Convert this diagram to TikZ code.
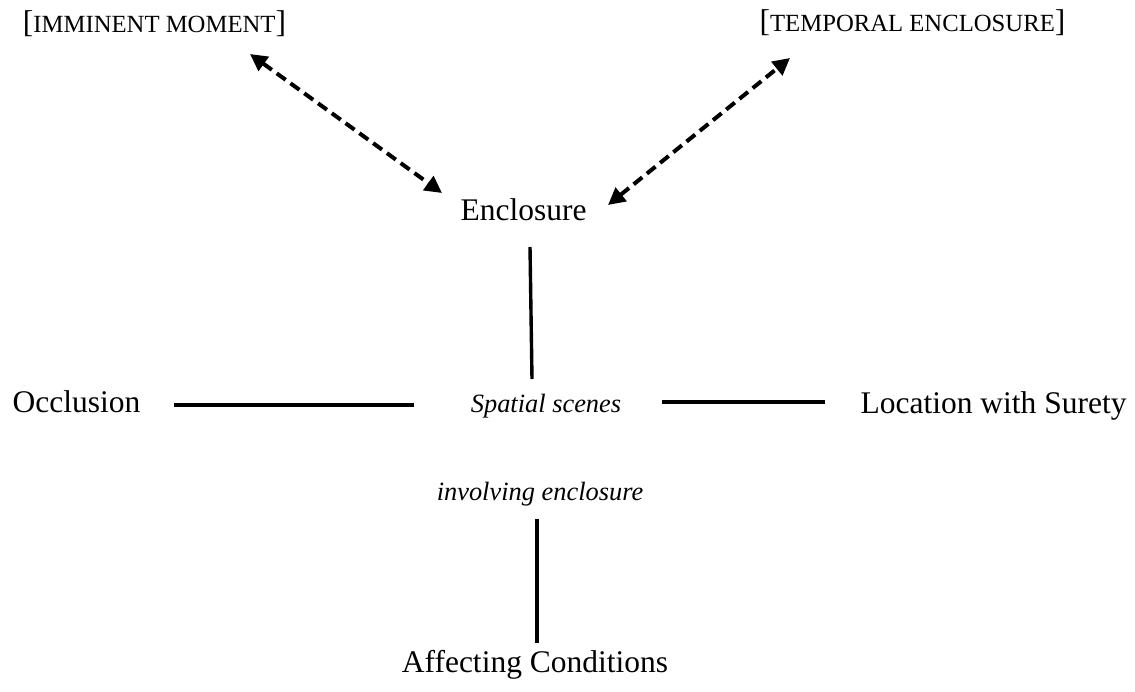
\documentclass[tikz,border=0pt]{standalone}
\usepackage{fontspec}
\setmainfont{Liberation Serif}
\usetikzlibrary{arrows.meta}
\begin{document}
\begin{tikzpicture}[x=1pt,y=-1pt,
  lbl/.style={inner sep=0pt,anchor=base,font=\fontsize{31.5}{36}\selectfont},
  itl/.style={inner sep=0pt,anchor=base,font=\fontsize{26.4}{30}\selectfont\itshape},
  dom/.style={inner sep=0pt,anchor=base,font=\fontsize{24.7}{30}\selectfont},
  conn/.style={line width=3.4pt},
  link/.style={line width=4pt,dash pattern=on 11pt off 6pt,
    {Triangle[length=17pt,width=17pt]}-{Triangle[length=17pt,width=17pt]}}]
\useasboundingbox (0,0) rectangle (1135,691);

% concept labels
\node[dom] (imm) at (154.5,32) {{\fontsize{31.5}{36}\selectfont[}IMMINENT MOMENT{\fontsize{31.5}{36}\selectfont]}};
\node[dom] (tmp) at (912.5,31) {{\fontsize{31.5}{36}\selectfont[}TEMPORAL ENCLOSURE{\fontsize{31.5}{36}\selectfont]}};
\node[lbl] (enc) at (523.5,220) {Enclosure};
\node[lbl] (occ) at (76.5,412) {Occlusion};
\node[itl] (sp)  at (546,412) {Spatial scenes};
\node[lbl] (loc) at (993.5,413) {Location with Surety};
\node[itl] (inv) at (540,500) {involving enclosure};
\node[lbl] (aff) at (535,672) {Affecting Conditions};

% connector end points
\coordinate (immE) at (250,54);
\coordinate (encNW) at (442,193);
\coordinate (tmpE) at (790,58);
\coordinate (encNE) at (608,205);
\coordinate (encS) at (530,247);
\coordinate (spN) at (532,379);
\coordinate (occE) at (174,405);
\coordinate (spW) at (414,405);
\coordinate (spE) at (662,402);
\coordinate (locW) at (825,402);
\coordinate (invS) at (537,519);
\coordinate (affN) at (537,643);

% dashed links to the temporal domain
\draw[link] (immE) -- (encNW);
\draw[link] (encNE) -- (tmpE);

% solid links around the central scene
\draw[conn] (encS) -- (spN);
\draw[conn] (occE) -- (spW);
\draw[conn] (spE) -- (locW);
\draw[conn] (invS) -- (affN);
\end{tikzpicture}
\end{document}
